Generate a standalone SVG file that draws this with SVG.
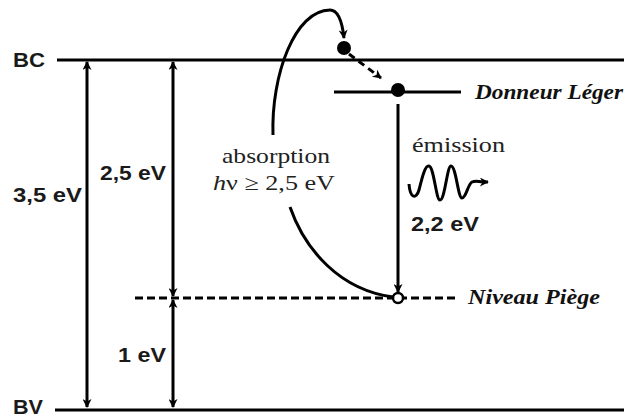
<svg xmlns="http://www.w3.org/2000/svg" width="624" height="417" viewBox="0 0 624 417">
  <style>
    .lvl { stroke: #000; stroke-width: 3; fill: none; }
    .trap { stroke: #000; stroke-width: 3; fill: none; stroke-dasharray: 8 4; }
    .conn { stroke: #000; stroke-width: 3; fill: none; }
    .sans { font-family: "Liberation Sans", Arial, sans-serif; font-size: 20px; font-weight: bold; fill: #1a1a1a; }
    .serif { font-family: "Liberation Serif", "Times New Roman", serif; font-size: 21px; fill: #222; }
    .tag { font-family: "Liberation Serif", "Times New Roman", serif; font-size: 20px; font-weight: bold; font-style: italic; fill: #111; }
  </style>
  <defs>
    <marker id="ah" viewBox="0 0 10 10" refX="9" refY="5" markerWidth="10" markerHeight="9" markerUnits="userSpaceOnUse" orient="auto-start-reverse">
      <path d="M0,0 L10,5 L0,10 L3,5 z" fill="#000"/>
    </marker>
  </defs>

  <g id="BC">
    <line class="lvl" x1="57" y1="60" x2="624" y2="60"/>
    <text class="sans" x="13" y="67" textLength="32" lengthAdjust="spacingAndGlyphs">BC</text>
  </g>
  <g id="BV">
    <line class="lvl" x1="55" y1="410" x2="624" y2="410" stroke-width="5"/>
    <text class="sans" x="13" y="414" textLength="30" lengthAdjust="spacingAndGlyphs">BV</text>
  </g>
  <g id="donneur">
    <line class="lvl" x1="334" y1="92" x2="461" y2="92"/>
    <text class="tag" x="475" y="99" textLength="148" lengthAdjust="spacingAndGlyphs">Donneur Léger</text>
  </g>
  <g id="piege">
    <line class="trap" x1="135" y1="298" x2="458" y2="298"/>
    <text class="tag" x="468" y="304" textLength="132" lengthAdjust="spacingAndGlyphs">Niveau Piège</text>
  </g>
  <g id="electron-bc">
    <circle cx="344" cy="48" r="7" fill="#000"/>
  </g>
  <g id="electron-donneur">
    <circle cx="398" cy="90" r="7" fill="#000"/>
  </g>
  <g id="trou-piege">
    <circle cx="398" cy="298" r="5" fill="#fff" stroke="#000" stroke-width="2.5"/>
  </g>

  <g id="connectors">
    <line class="conn" x1="87" y1="62" x2="87" y2="407" marker-start="url(#ah)" marker-end="url(#ah)"/>
    <line class="conn" x1="173" y1="62" x2="173" y2="296" marker-start="url(#ah)" marker-end="url(#ah)"/>
    <line class="conn" x1="173" y1="300" x2="173" y2="407" marker-start="url(#ah)" marker-end="url(#ah)"/>
    <path class="conn" d="M 273 135 C 271 75, 295 10, 330 10 C 338 10, 342 20, 344 38" marker-end="url(#ah)"/>
    <path class="conn" d="M 290 207 C 305 250, 340 290, 393 297"/>
    <line class="conn" x1="349" y1="54" x2="381" y2="78" stroke-dasharray="7 5" marker-end="url(#ah)"/>
    <line class="conn" x1="398" y1="104" x2="398" y2="292" marker-end="url(#ah)"/>
    <path class="conn" d="M 409 184 C 410 198, 416 200, 419 190 C 422 178, 425 165, 429 166 C 434 167, 436 200, 440 200 C 445 200, 447 166, 451 166 C 456 166, 458 198, 462 198 C 466 198, 468 184, 472 182 C 476 180, 478 182, 488 182" marker-end="url(#ah)" stroke-width="2.5"/>
  </g>

  <g id="labels">
    <text class="sans" x="13" y="202" textLength="69" lengthAdjust="spacingAndGlyphs">3,5 eV</text>
    <text class="sans" x="100" y="180" textLength="66" lengthAdjust="spacingAndGlyphs">2,5 eV</text>
    <text class="sans" x="118" y="362" textLength="48" lengthAdjust="spacingAndGlyphs">1 eV</text>
    <text class="sans" x="411" y="231" textLength="68" lengthAdjust="spacingAndGlyphs">2,2 eV</text>
    <text class="serif" x="412" y="152" textLength="93" lengthAdjust="spacingAndGlyphs">émission</text>
    <text class="serif" x="222" y="163" textLength="108" lengthAdjust="spacingAndGlyphs">absorption</text>
    <text class="serif" x="213" y="190" textLength="122" lengthAdjust="spacingAndGlyphs"><tspan font-style="italic">h</tspan>ν ≥ 2,5 eV</text>
  </g>
</svg>
